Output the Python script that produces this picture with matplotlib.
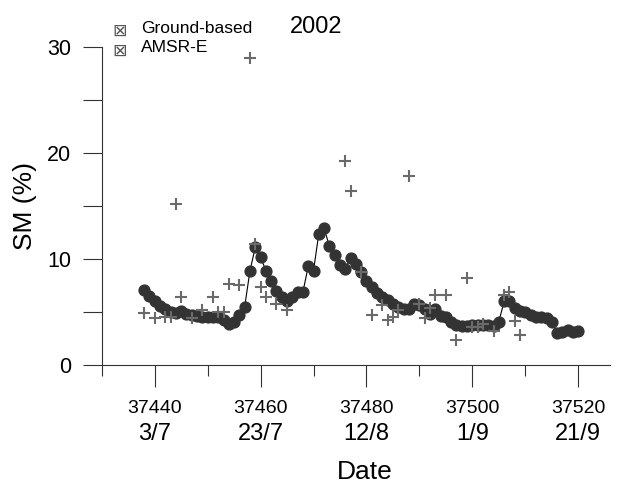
import matplotlib
matplotlib.use("Agg")
import matplotlib.pyplot as plt

plt.rcParams['font.family'] = ['Liberation Sans', 'DejaVu Sans']

# Ground-based soil moisture (daily, day number)
gb_day = list(range(37438, 37521))
gb_sm = [7.1, 6.5, 6.0, 5.6, 5.25, 5.0, 4.95, 5.05, 4.85, 4.7,
         4.6, 4.5, 4.5, 4.55, 4.5, 4.2, 3.9, 4.1, 4.7, 5.5,
         8.9, 11.1, 10.2, 8.9, 7.9, 7.0, 6.4, 6.0, 6.4, 6.9,
         6.9, 9.3, 8.9, 12.4, 12.9, 11.2, 10.4, 9.4, 9.1, 10.1,
         9.5, 8.8, 7.9, 7.4, 6.8, 6.4, 6.1, 5.75, 5.5, 5.25,
         5.3, 5.75, 5.7, 5.3, 4.85, 5.25, 4.6, 4.55, 4.1, 3.8,
         3.7, 3.7, 3.8, 3.8, 3.8, 3.75, 3.7, 4.1, 6.0, 6.0,
         5.4, 5.1, 5.0, 4.7, 4.55, 4.55, 4.4, 4.1, 3.0, 3.15,
         3.3, 3.15, 3.2]

# AMSR-E retrievals
am_day = [37438, 37440, 37442, 37443, 37444, 37445, 37447, 37449, 37451, 37452,
          37453, 37454, 37456, 37458, 37459, 37460, 37461, 37463, 37465, 37476,
          37477, 37479, 37481, 37483, 37484, 37485, 37486, 37488, 37490, 37491,
          37492, 37493, 37495, 37497, 37499, 37500, 37501, 37502, 37504, 37506,
          37507, 37508, 37509]
am_sm = [4.9, 4.4, 4.5, 4.55, 15.2, 6.4, 4.45, 5.2, 6.4, 5.0,
         5.0, 7.65, 7.5, 29.0, 11.4, 7.35, 6.4, 5.8, 5.15, 19.2,
         16.4, 8.8, 4.7, 5.66, 4.25, 4.5, 5.2, 17.8, 5.8, 4.4,
         5.35, 6.6, 6.6, 2.36, 8.2, 3.55, 3.6, 3.9, 3.2, 6.6,
         6.9, 4.15, 2.83]

major_ticks = [37440, 37460, 37480, 37500, 37520]
minor_ticks = [37430, 37450, 37470, 37490, 37510]
date_labels = ['3/7', '23/7', '12/8', '1/9', '21/9']

fig = plt.figure(figsize=(6.31, 4.86), dpi=100)
ax = fig.add_axes([0.1612, 0.249, 0.8056, 0.6543])

ax.plot(gb_day, gb_sm, color='black', lw=0.8, zorder=2)
ax.plot(gb_day, gb_sm, 'o', color='#333333', ms=7.8, mec='#333333', zorder=3)
ax.plot(am_day, am_sm, '+', color='#6a6a6a', ms=9, mew=1.5, zorder=4)

ax.set_xlim(37430, 37526)
ax.set_ylim(0, 30)
for s in ['top', 'right']:
    ax.spines[s].set_visible(False)
ax.spines['left'].set_color('#333333')
ax.spines['bottom'].set_color('#333333')

ax.set_xticks(major_ticks)
ax.set_xticklabels([str(t) for t in major_ticks])
ax.set_xticks(minor_ticks, minor=True)
ax.tick_params(axis='x', which='major', length=16, width=0.8, pad=9,
               labelsize=14, direction='out', colors='#333333', labelcolor='black')
ax.tick_params(axis='x', which='minor', length=8, width=0.8, direction='out',
               colors='#333333')

ax.set_yticks([0, 10, 20, 30])
ax.set_yticks([5, 15, 25], minor=True)
ax.tick_params(axis='y', which='both', length=14, width=0.8, pad=8,
               labelsize=15.5, direction='out', colors='#333333', labelcolor='black')

sec = ax.secondary_xaxis('bottom')
sec.set_xticks(major_ticks, labels=date_labels)
sec.tick_params(length=0, pad=42, labelsize=17)
sec.spines['bottom'].set_visible(False)

ax.set_xlabel('Date', fontsize=19)
ax.xaxis.set_label_coords(0.518, -0.30)
ax.set_ylabel('SM (%)', fontsize=19)
ax.yaxis.set_label_coords(-0.127, 0.5)

# legend as in the original
fig.text(0.178, 0.937, '\u22a0', fontsize=12.5, color='#555555', ha='left', va='center',
         family=['DejaVu Sans'])
fig.text(0.178, 0.896, '\u22a0', fontsize=12.5, color='#555555', ha='left', va='center',
         family=['DejaVu Sans'])
fig.text(0.223, 0.942, 'Ground-based', fontsize=12.5, ha='left', va='center')
fig.text(0.223, 0.902, 'AMSR-E', fontsize=12.5, ha='left', va='center')
fig.text(0.46, 0.945, '2002', fontsize=17, ha='left', va='center')

fig.savefig('out.png', dpi=100)
